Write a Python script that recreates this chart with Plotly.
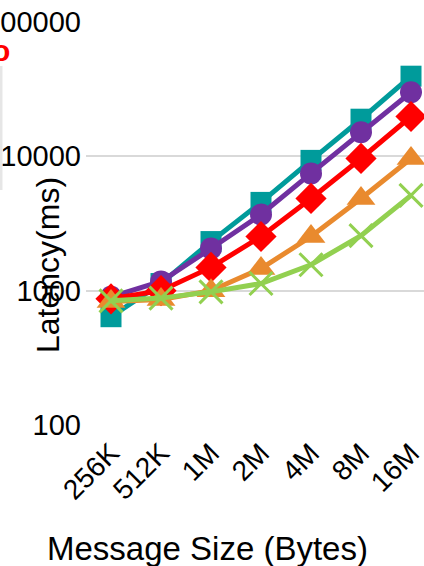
import plotly.graph_objects as go

# Message sizes on the x axis
sizes = ["256K", "512K", "1M", "2M", "4M", "8M", "16M"]

# Latency (ms) per configuration
lat_teal = [640, 1130, 2320, 4540, 9330, 18900, 39500]
lat_purple = [900, 1170, 2060, 3690, 7460, 15100, 30000]
lat_red = [870, 1000, 1490, 2530, 4860, 9640, 19800]
lat_orange = [830, 860, 1000, 1460, 2530, 4860, 9640]
lat_green = [840, 880, 980, 1130, 1560, 2570, 5120]

y_ticks = [100, 1000, 10000, 100000]
y_ticktext = ["100", "1000", "10000", "100000"]

series = [
    (lat_teal, "#009b9b", "square", 21),
    (lat_purple, "#7030a0", "circle", 22),
    (lat_red, "#ff0000", "diamond", 24),
    (lat_orange, "#e98a2e", "triangle-up", 25),
    (lat_green, "#92d050", "x-thin-open", 23),
]

fig = go.Figure()
for vals, color, symbol, size in series:
    marker = dict(symbol=symbol, size=size, color=color)
    if symbol.startswith("x-thin"):
        marker["line"] = dict(color=color, width=3)
    fig.add_trace(go.Scatter(
        x=list(range(len(sizes))), y=vals, mode="lines+markers",
        line=dict(color=color, width=5), marker=marker, showlegend=False,
        cliponaxis=False,
    ))

L, T, W, H = 86, 22, 424, 566
pw = W - L
ph = 425 - T

fig.update_layout(
    width=W, height=H,
    margin=dict(l=L, r=0, t=T, b=H - 425, pad=0),
    plot_bgcolor="white", paper_bgcolor="white",
    font=dict(family="Liberation Sans, Arial, sans-serif", color="black"),
    xaxis=dict(
        tickmode="array", tickvals=list(range(len(sizes))), ticktext=sizes,
        range=[-0.5, -0.5 + pw / 50.0], tickangle=-45, automargin=False,
        ticklabeloverflow="allow", ticklabelstandoff=5,
        tickfont=dict(size=28), showgrid=False, zeroline=False,
        showline=False, ticks="",
    ),
    yaxis=dict(
        type="log", range=[2, 5], tickvals=y_ticks, ticktext=y_ticktext,
        tickfont=dict(size=29), showgrid=True, gridcolor="#d9d9d9",
        gridwidth=2, zeroline=False, showline=False, ticks="",
        automargin=False, ticklabelstandoff=4, ticklabeloverflow="allow",
    ),
)

fig.add_annotation(
    text="Latency(ms)", textangle=-90, xref="paper", yref="paper",
    x=(48 - L) / pw, y=(425 - 265) / ph, xanchor="center", yanchor="middle",
    showarrow=False, font=dict(size=32, color="black"),
)
fig.add_annotation(
    text="Message Size (Bytes)", xref="paper", yref="paper",
    x=(207 - L) / pw, y=(425 - 548) / ph, xanchor="center", yanchor="middle",
    showarrow=False, font=dict(size=33, color="black"),
)
# legend box edge and label fragment at the left border
fig.add_annotation(
    text="<b>o</b>", xref="paper", yref="paper",
    x=(12 - L) / pw, y=(425 - 50) / ph, xanchor="right", yanchor="middle",
    showarrow=False, font=dict(size=30, color="#ff0000"),
)
fig.add_shape(
    type="line", xref="paper", yref="paper",
    x0=(1 - L) / pw, x1=(1 - L) / pw, y0=(425 - 66) / ph, y1=(425 - 190) / ph,
    line=dict(color="#e6e6e6", width=3),
)

fig.write_html("out.html")
